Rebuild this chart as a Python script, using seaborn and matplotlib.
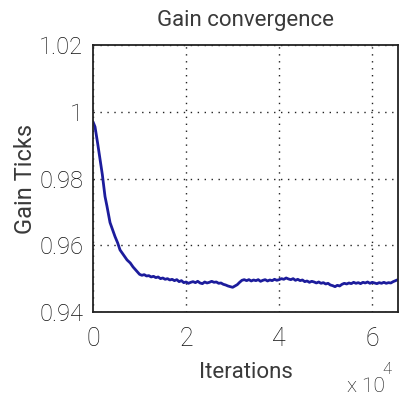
import matplotlib
matplotlib.use("Agg")
import matplotlib.pyplot as plt
import seaborn as sns
import pandas as pd

# Adaptive gain estimate versus iteration count
iterations = [
    0, 430, 1000, 1505, 2000, 2580, 3000, 3656, 4200, 4731, 5300, 5806,
    6500, 7312, 8000, 8602, 9300,
    10000, 10500, 11000, 11500, 12000, 12500, 13000, 13500, 14000, 14500,
    15000, 15500, 16000, 16500, 17000, 17500, 18000, 18500, 19000, 19500,
    20000, 20500, 21000, 21500, 22000, 22500, 23000, 23500, 24000, 24500,
    25000, 25500, 26000, 26500, 27000, 27500, 28000, 28500, 29000, 29500,
    30000, 30500, 31000, 31500, 32000, 32500, 33000, 33500, 34000, 34500,
    35000, 35500, 36000, 36500, 37000, 37500, 38000, 38500, 39000, 39500,
    40000, 40500, 41000, 41500, 42000, 42500, 43000, 43500, 44000, 44500,
    45000, 45500, 46000, 46500, 47000, 47500, 48000, 48500, 49000, 49500,
    50000, 50500, 51000, 51500, 52000, 52500, 53000, 53500, 54000, 54500,
    55000, 55500, 56000, 56500, 57000, 57500, 58000, 58500, 59000, 59500,
    60000, 60500, 61000, 61500, 62000, 62500, 63000, 63500, 64000, 64500,
    65000, 65536,
]
gain = [
    0.9970, 0.9955, 0.9905, 0.9858, 0.9812, 0.9746, 0.9717, 0.9668, 0.9647,
    0.9626, 0.9607, 0.9586, 0.9572, 0.9556, 0.9547, 0.9535, 0.9524,
    0.9513, 0.9510, 0.9512, 0.9508, 0.9509, 0.9505, 0.9507, 0.9503, 0.9505,
    0.9500, 0.9502, 0.9498, 0.9500, 0.9496, 0.9498, 0.9494, 0.9497, 0.9491,
    0.9494, 0.9488, 0.9490, 0.9486, 0.9489, 0.9491, 0.9488, 0.9492, 0.9487,
    0.9485, 0.9490, 0.9487, 0.9489, 0.9492, 0.9489, 0.9490, 0.9486, 0.9487,
    0.9483, 0.9481, 0.9478, 0.9476, 0.9474, 0.9478, 0.9482, 0.9489, 0.9495,
    0.9497, 0.9494, 0.9497, 0.9493, 0.9496, 0.9494, 0.9497, 0.9492, 0.9495,
    0.9497, 0.9493, 0.9496, 0.9494, 0.9498, 0.9495, 0.9497, 0.9500, 0.9498,
    0.9502, 0.9499, 0.9497, 0.9500, 0.9495, 0.9498, 0.9494, 0.9496, 0.9491,
    0.9493, 0.9489, 0.9492, 0.9490, 0.9487, 0.9490, 0.9486, 0.9488, 0.9484,
    0.9486, 0.9481, 0.9479, 0.9476, 0.9480, 0.9478, 0.9483, 0.9486, 0.9484,
    0.9487, 0.9485, 0.9489, 0.9486, 0.9488, 0.9485, 0.9489, 0.9487, 0.9490,
    0.9486, 0.9489, 0.9487, 0.9485, 0.9488, 0.9486, 0.9489, 0.9486, 0.9488,
    0.9487, 0.9491, 0.9494, 0.9497,
]
x_ticks = [0, 20000, 40000, 60000]
x_tick_labels = ["0", "2", "4", "6"]
y_ticks = [0.94, 0.96, 0.98, 1.00, 1.02]
y_tick_labels = ["0.94", "0.96", "0.98", "1", "1.02"]

df = pd.DataFrame({"Iterations": iterations, "Gain": gain})

sns.set_style("white")
plt.rcParams["font.family"] = ["Roboto", "DejaVu Sans"]
plt.rcParams["font.weight"] = "light"

ink = "#111111"
label_ink = "#3a3a3a"
fig = plt.figure(figsize=(4.03, 3.99), dpi=100)
ax = fig.add_axes([0.2308, 0.218, 0.7568, 0.6692])

sns.lineplot(data=df, x="Iterations", y="Gain", ax=ax, color="#1c1c9c",
             linewidth=2.0, estimator=None)

ax.set_xlim(0, 65536)
ax.set_ylim(0.94, 1.02)
ax.set_xticks(x_ticks)
ax.set_xticklabels(x_tick_labels)
ax.set_yticks(y_ticks)
ax.set_yticklabels(y_tick_labels)
ax.tick_params(axis="x", labelsize=18, colors=ink, direction="in",
               length=4, pad=11)
ax.tick_params(axis="y", labelsize=17, colors=ink, direction="in",
               length=4, pad=7)
ax.grid(True, linestyle=(0, (1, 4)), color="#222222", linewidth=1.0)

for s in ax.spines.values():
    s.set_visible(True)
    s.set_color("#222222")
    s.set_linewidth(1.3)

ax.set_title("Gain convergence", fontsize=16, color=label_ink, pad=14,
             fontweight="normal")
ax.set_xlabel("Iterations", fontsize=16, color=label_ink, labelpad=8,
              fontweight="normal")
ax.set_ylabel("Gain Ticks", fontsize=17, color=label_ink, labelpad=2,
              fontweight="normal")

fig.text(0.862, 0.008, "x 10", fontsize=15, color=ink, ha="left", va="bottom")
fig.text(0.950, 0.055, "4", fontsize=12, color=ink, ha="left", va="bottom")

fig.savefig("out.png", dpi=100, facecolor="white")
